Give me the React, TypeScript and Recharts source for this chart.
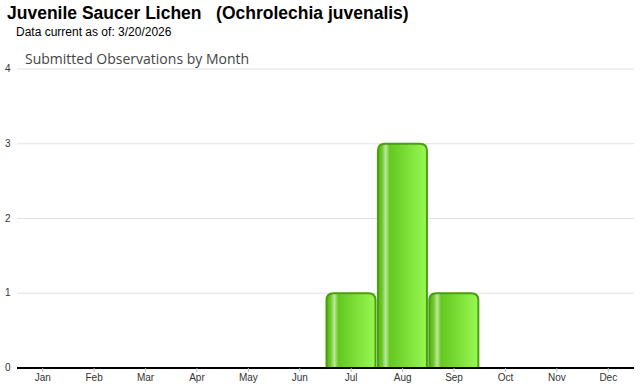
import { BarChart, Bar, XAxis, YAxis, CartesianGrid } from "recharts";

const months = ["Jan", "Feb", "Mar", "Apr", "May", "Jun", "Jul", "Aug", "Sep", "Oct", "Nov", "Dec"];
const observations = [0, 0, 0, 0, 0, 0, 1, 3, 1, 0, 0, 0];
const yTicks = [0, 1, 2, 3, 4];

const data = months.map((m, i) => ({ month: m, count: observations[i] }));

function GlossyBar(props: any) {
  const { x, y, width, height } = props;
  if (!height || height <= 0) return null;
  const r = Math.min(7, width / 2, height / 2);
  const d = `M${x},${y + height} L${x},${y + r} Q${x},${y} ${x + r},${y} L${x + width - r},${y} Q${x + width},${y} ${x + width},${y + r} L${x + width},${y + height} Z`;
  return <path d={d} fill="url(#barGloss)" stroke="#4a9f0c" strokeWidth={2} />;
}

function YTick(props: any) {
  const { y, payload } = props;
  return (
    <text x={5} y={y + 3} fontSize={10} fill="#333" fontFamily="Liberation Sans, Arial, sans-serif">
      {payload.value}
    </text>
  );
}

export default function App() {
  return (
    <div style={{ position: "absolute", left: 0, top: 0, width: 640, height: 390, background: "#fff", fontFamily: "Liberation Sans, Arial, sans-serif" }}>
      <div style={{ position: "absolute", left: 7, top: 3, fontSize: 17.5, fontWeight: "bold", color: "#000", whiteSpace: "pre" }}>
        {"Juvenile Saucer Lichen   (Ochrolechia juvenalis)"}
      </div>
      <div style={{ position: "absolute", left: 16, top: 25, fontSize: 12, color: "#000" }}>Data current as of: 3/20/2026</div>
      <div style={{ position: "absolute", left: 25, top: 49, fontSize: 14, color: "#444", fontFamily: "'Open Sans', sans-serif" }}>
        Submitted Observations by Month
      </div>
      <div style={{ position: "absolute", left: 0, top: 0 }}>
        <BarChart width={640} height={390} data={data} margin={{ top: 69, right: 6, bottom: 0, left: 0 }} barCategoryGap={1}>
          <defs>
            <linearGradient id="barGloss" x1="0" y1="0" x2="1" y2="0">
              <stop offset="0" stopColor="#56b512" />
              <stop offset="0.08" stopColor="#6cc72a" />
              <stop offset="0.16" stopColor="#bde79a" />
              <stop offset="0.24" stopColor="#64c821" />
              <stop offset="0.55" stopColor="#79dc34" />
              <stop offset="1" stopColor="#98f853" />
            </linearGradient>
          </defs>
          <CartesianGrid vertical={false} stroke="#e2e2e2" />
          <XAxis
            dataKey="month"
            height={22}
            interval={0}
            axisLine={{ stroke: "#000", strokeWidth: 2 }}
            tickLine={{ stroke: "#bbb" }}
            tickSize={4}
            tick={{ fontSize: 10, fill: "#333", fontFamily: "Liberation Sans, Arial, sans-serif" }}
          />
          <YAxis width={17} domain={[0, 4]} ticks={yTicks} axisLine={false} tickLine={false} tick={<YTick />} />
          <Bar dataKey="count" shape={<GlossyBar />} isAnimationActive={false} />
        </BarChart>
      </div>
    </div>
  );
}
